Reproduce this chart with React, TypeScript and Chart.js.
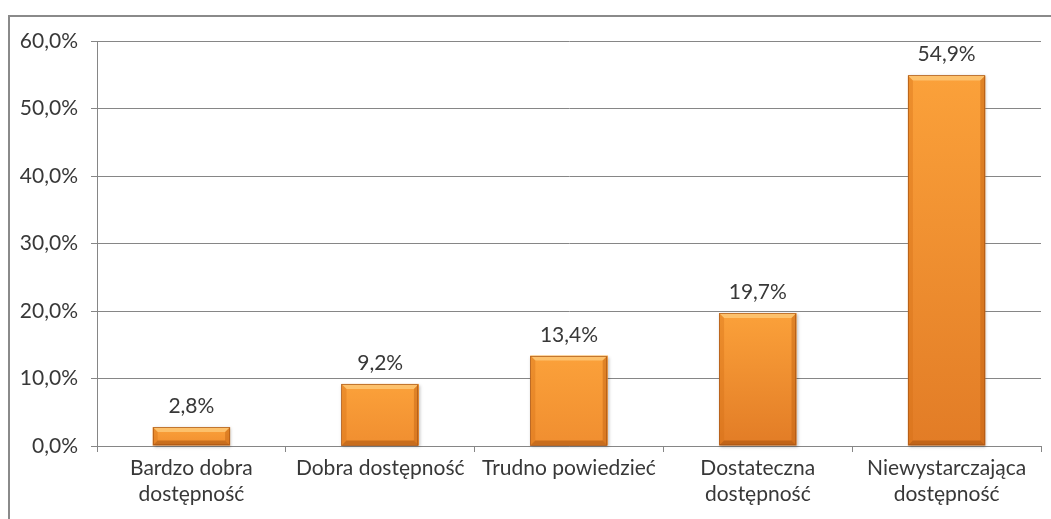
import React, { useEffect, useRef } from "react";
import { Chart, registerables } from "chart.js";

Chart.register(...registerables);

const categories: (string | string[])[] = [
  ["Bardzo dobra", "dostępność"],
  "Dobra dostępność",
  "Trudno powiedzieć",
  ["Dostateczna", "dostępność"],
  ["Niewystarczająca", "dostępność"],
];
const values: number[] = [2.8, 9.2, 13.4, 19.7, 54.9];
const yTicks: number[] = [0, 10, 20, 30, 40, 50, 60];

const FONT = "Lato, 'Open Sans', sans-serif";
const TEXT = "#383838";
const GRID = "#868686";
const FS = 21;

const fmt = (v: number) => v.toFixed(1).replace(".", ",") + "%";

const bevelPlugin = {
  id: "bevelBars",
  afterDatasetsDraw(chart: any) {
    const ctx = chart.ctx as CanvasRenderingContext2D;
    const meta = chart.getDatasetMeta(0);
    meta.data.forEach((bar: any, i: number) => {
      const { x, y, base, width } = bar.getProps(["x", "y", "base", "width"], true);
      const l = x - width / 2;
      const r = x + width / 2;
      const t = y;
      const b = base;
      const h = b - t;
      const bv = Math.min(5, h / 3);
      ctx.save();
      ctx.shadowColor = "rgba(0,0,0,0.25)";
      ctx.shadowBlur = 3;
      ctx.shadowOffsetX = 1;
      ctx.shadowOffsetY = 1;
      const g = ctx.createLinearGradient(0, t, 0, b);
      g.addColorStop(0, "#FBA13A");
      g.addColorStop(1, h > 100 ? "#E27C26" : "#F08E30");
      ctx.fillStyle = g;
      ctx.fillRect(l, t, width, h);
      ctx.restore();
      ctx.save();
      ctx.fillStyle = "rgba(255,220,150,0.55)";
      ctx.beginPath();
      ctx.moveTo(l, t);
      ctx.lineTo(r, t);
      ctx.lineTo(r - bv, t + bv);
      ctx.lineTo(l + bv, t + bv);
      ctx.closePath();
      ctx.fill();
      ctx.fillStyle = "rgba(210,110,20,0.35)";
      ctx.beginPath();
      ctx.moveTo(l, t);
      ctx.lineTo(l + bv, t + bv);
      ctx.lineTo(l + bv, b - bv);
      ctx.lineTo(l, b);
      ctx.closePath();
      ctx.fill();
      ctx.fillStyle = "rgba(190,95,15,0.45)";
      ctx.beginPath();
      ctx.moveTo(r, t);
      ctx.lineTo(r - bv, t + bv);
      ctx.lineTo(r - bv, b - bv);
      ctx.lineTo(r, b);
      ctx.closePath();
      ctx.fill();
      ctx.fillStyle = "rgba(160,75,10,0.5)";
      ctx.beginPath();
      ctx.moveTo(l, b);
      ctx.lineTo(r, b);
      ctx.lineTo(r - bv, b - bv);
      ctx.lineTo(l + bv, b - bv);
      ctx.closePath();
      ctx.fill();
      ctx.strokeStyle = "rgba(170,85,20,0.7)";
      ctx.lineWidth = 1;
      ctx.strokeRect(Math.round(l) + 0.5, Math.round(t) + 0.5, Math.round(width) - 1, Math.round(h) - 1);
      ctx.fillStyle = TEXT;
      ctx.font = `${FS}px ${FONT}`;
      ctx.textAlign = "center";
      ctx.textBaseline = "alphabetic";
      ctx.fillText(fmt(values[i]), x, t - 14);
      ctx.restore();
    });
  },
};

export default function App() {
  const ref = useRef<HTMLCanvasElement | null>(null);
  useEffect(() => {
    document.body.style.margin = "0";
    const chart = new Chart(ref.current as HTMLCanvasElement, {
      type: "bar",
      data: {
        labels: categories,
        datasets: [
          {
            data: values,
            backgroundColor: "rgba(0,0,0,0)",
            borderWidth: 0,
            categoryPercentage: 1,
            barPercentage: 0.41,
          },
        ],
      },
      options: {
        animation: false,
        responsive: false,
        layout: { padding: { left: 0, right: 10, top: 41, bottom: 0 } },
        plugins: { legend: { display: false }, tooltip: { enabled: false } },
        scales: {
          x: {
            grid: {
              offset: true,
              drawOnChartArea: false,
              drawTicks: true,
              tickLength: 6,
              color: GRID,
            },
            border: { color: GRID },
            ticks: {
              color: TEXT,
              font: { family: FONT, size: FS, lineHeight: 1.2 },
              padding: 4,
              maxRotation: 0,
            },
            afterFit: (s: any) => {
              s.height = 73;
            },
          },
          y: {
            min: 0,
            max: 60,
            grid: { color: GRID, tickLength: 6 },
            border: { color: GRID },
            afterBuildTicks: (s: any) => {
              s.ticks = yTicks.map((v) => ({ value: v }));
            },
            ticks: {
              color: TEXT,
              font: { family: FONT, size: FS },
              padding: 13,
              callback: (v: any) => fmt(Number(v)),
            },
            afterFit: (s: any) => {
              s.width = 97;
            },
          },
        },
      },
      plugins: [bevelPlugin],
    });
    return () => chart.destroy();
  }, []);
  return (
    <div style={{ position: "relative", width: 1051, height: 519, background: "#fff", overflow: "hidden" }}>
      <div
        style={{
          position: "absolute",
          left: 8,
          top: 15,
          width: 1100,
          height: 600,
          borderTop: "2px solid #8a8a8a",
          borderLeft: "2px solid #8a8a8a",
        }}
      />
      <canvas ref={ref} width={1051} height={519} style={{ position: "absolute", left: 0, top: 0 }} />
    </div>
  );
}
